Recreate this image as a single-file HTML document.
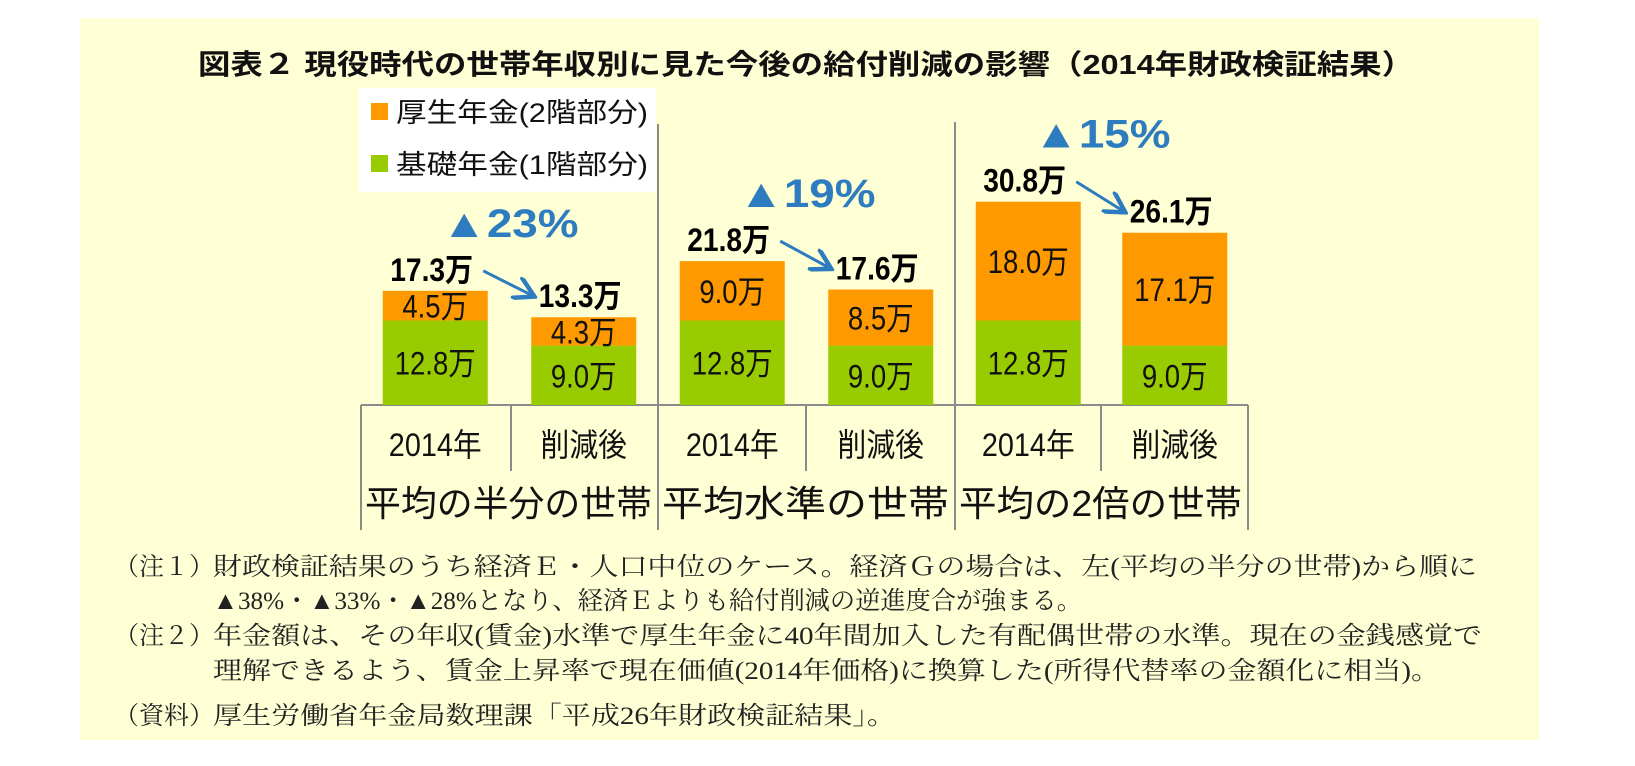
<!DOCTYPE html>
<html><head><meta charset="utf-8">
<style>
body{margin:0;background:#fff;}
svg{display:block;}
.t{font-family:"Liberation Sans","Noto Sans CJK JP",sans-serif;}
.n{font-family:"Liberation Serif","Noto Serif CJK JP",serif;}
</style></head>
<body>
<svg id="chart" width="1635" height="766" viewBox="0 0 1635 766" xmlns="http://www.w3.org/2000/svg">
<rect x="80" y="18" width="1459" height="722" fill="#FFFFD5"/>
<text class="t" x="198" y="74" font-size="28" font-weight="bold" fill="#111" textLength="1216" lengthAdjust="spacingAndGlyphs">図表２  現役時代の世帯年収別に見た今後の給付削減の影響（2014年財政検証結果）</text>
<g id="legend">
<rect x="359" y="88" width="297" height="104" fill="#fff"/>
<rect x="371" y="103" width="17" height="17" fill="#FF9900"/>
<text class="t" x="396" y="122" font-size="27" fill="#111" textLength="252" lengthAdjust="spacingAndGlyphs">厚生年金(2階部分)</text>
<rect x="371" y="155" width="17" height="17" fill="#99CC00"/>
<text class="t" x="396" y="174" font-size="27" fill="#111" textLength="252" lengthAdjust="spacingAndGlyphs">基礎年金(1階部分)</text>
</g>
<g id="table" stroke="#8a8a8a" stroke-width="2" fill="none">
<line x1="361" y1="405" x2="1248" y2="405"/>
<line x1="361" y1="405" x2="361" y2="530"/>
<line x1="1248" y1="405" x2="1248" y2="530"/>
<line x1="658" y1="124" x2="658" y2="530"/>
<line x1="955" y1="122" x2="955" y2="530"/>
<line x1="511" y1="405" x2="511" y2="471"/>
<line x1="806" y1="405" x2="806" y2="471"/>
<line x1="1101" y1="405" x2="1101" y2="471"/>
</g>
<g id="bars"></g>
<g id="notes" class="n" font-size="25" fill="#222">
<text x="114" y="575">（注１）</text>
<text x="213" y="575" textLength="1264" lengthAdjust="spacingAndGlyphs">財政検証結果のうち経済Ｅ・人口中位のケース。経済Ｇの場合は、左(平均の半分の世帯)から順に</text>
<text x="213" y="609" textLength="869" lengthAdjust="spacingAndGlyphs">▲38%・▲33%・▲28%となり、経済Ｅよりも給付削減の逆進度合が強まる。</text>
<text x="114" y="644">（注２）</text>
<text x="213" y="644" textLength="1269" lengthAdjust="spacingAndGlyphs">年金額は、その年収(賃金)水準で厚生年金に40年間加入した有配偶世帯の水準。現在の金銭感覚で</text>
<text x="213" y="679" textLength="1227" lengthAdjust="spacingAndGlyphs">理解できるよう、賃金上昇率で現在価値(2014年価格)に換算した(所得代替率の金額化に相当)。</text>
<text x="114" y="724">（資料）</text>
<text x="213" y="724" textLength="683" lengthAdjust="spacingAndGlyphs">厚生労働省年金局数理課「平成26年財政検証結果」。</text>
</g>
</svg>
<script>
const categories=["2014年","削減後","2014年","削減後","2014年","削減後"];
const groups=["平均の半分の世帯","平均水準の世帯","平均の2倍の世帯"];
const kisoValues=[12.8,9.0,12.8,9.0,12.8,9.0];
const koseiValues=[4.5,4.3,9.0,8.5,18.0,17.1];
const totalLabels=["17.3","13.3","21.8","17.6","30.8","26.1"];
const cutLabels=["▲23%","▲19%","▲15%"];

const NS="http://www.w3.org/2000/svg";
const baseY=405, pxPerUnit=6.6, barW=105;
const groupLeft=[361,658,955], groupW=[297,297,293];
function yScale(v){return baseY-v*pxPerUnit;}
function xCenter(i){const g=Math.floor(i/2);const half=groupW[g]/2;return groupLeft[g]+half*(i%2)+half/2;}
function mk(tag,attrs,parent){const e=document.createElementNS(NS,tag);for(const k in attrs)e.setAttribute(k,attrs[k]);parent.appendChild(e);return e;}
function sx(cx,s){return `translate(${cx},0) scale(${s},1) translate(${-cx},0)`;}
const svg=document.getElementById('chart');
const gb=document.getElementById('bars');
const bx=[];
for(let i=0;i<categories.length;i++){
  const cx=xCenter(i); bx.push(cx);
  const total=kisoValues[i]+koseiValues[i];
  const g1=mk('rect',{x:cx-barW/2,y:yScale(kisoValues[i]),width:barW,height:baseY-yScale(kisoValues[i]),fill:'#99CC00'},gb);
  
  
  const o1=mk('rect',{x:cx-barW/2,y:yScale(total),width:barW,height:yScale(kisoValues[i])-yScale(total),fill:'#FF9900'},gb);
  
  
  const t1=mk('text',{x:cx,y:(yScale(kisoValues[i])+baseY)/2+12,'text-anchor':'middle','font-size':'32',fill:'#111',class:'t',transform:sx(cx,0.86)},gb);
  t1.textContent=kisoValues[i].toFixed(1)+'万';
  
  
  const t2=mk('text',{x:cx,y:(yScale(total)+yScale(kisoValues[i]))/2+12,'text-anchor':'middle','font-size':'32',fill:'#111',class:'t',transform:sx(cx,0.86)},gb);
  t2.textContent=koseiValues[i].toFixed(1)+'万';
  
  
  const t3=mk('text',{x:cx-4,y:yScale(total)-10,'text-anchor':'middle','font-size':'32','font-weight':'bold',fill:'#000',class:'t',transform:sx(cx,0.88)},gb);
  t3.textContent=totalLabels[i]+'万';
  
  
  const c=mk('text',{x:cx,y:456,'text-anchor':'middle','font-size':'32',fill:'#111',class:'t',transform:sx(cx,0.9)},gb);
  c.textContent=categories[i];
  
  
}
mk('defs',{},svg).innerHTML='<marker id="ah" markerWidth="8" markerHeight="8" refX="6" refY="4" orient="auto" markerUnits="strokeWidth"><path d="M0,0 L7,4 L0,8" fill="none" stroke="#2E7CC0" stroke-width="1.5"/></marker>';
for(let g=0;g<groups.length;g++){
  const cxg=groupLeft[g]+groupW[g]/2;
  const gl=mk('text',{x:groupLeft[g]+4,y:516,'font-size':'36',fill:'#111',class:'t',textLength:String(groupW[g]-10),lengthAdjust:'spacingAndGlyphs'},gb);
  gl.textContent=groups[g];
  
  
  const a=2*g,b=2*g+1;
  const ya=yScale(kisoValues[a]+koseiValues[a])-20, yb=yScale(kisoValues[b]+koseiValues[b])-22;
  const ar=mk('line',{x1:bx[a]+48,y1:ya,x2:bx[b]-52,y2:yb,stroke:'#2E7CC0','stroke-width':'3','marker-end':'url(#ah)'},gb);
  
  
  const px=(bx[a]+bx[b])/2;
  const pc=mk('text',{x:px-68,y:ya-34,'font-size':'40','font-weight':'bold',fill:'#2E7CC0',class:'t',textLength:'137',lengthAdjust:'spacingAndGlyphs'},gb);
  pc.textContent=cutLabels[g];
  
  
}
</script>
</body></html>
